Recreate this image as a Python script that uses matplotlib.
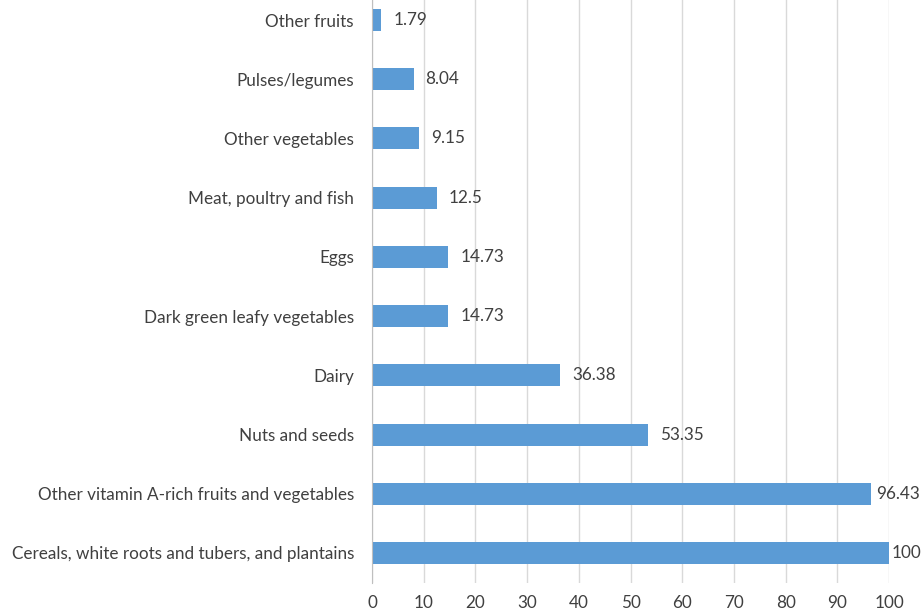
import matplotlib
matplotlib.use("Agg")
import matplotlib.pyplot as plt
import matplotlib.transforms as mtransforms

categories = [
    "Cereals, white roots and tubers, and plantains",
    "Other vitamin A-rich fruits and vegetables",
    "Nuts and seeds",
    "Dairy",
    "Dark green leafy vegetables",
    "Eggs",
    "Meat, poultry and fish",
    "Other vegetables",
    "Pulses/legumes",
    "Other fruits",
]
values = [100, 96.43, 53.35, 36.38, 14.73, 14.73, 12.5, 9.15, 8.04, 1.79]
value_labels = ["100", "96.43", "53.35", "36.38", "14.73", "14.73", "12.5", "9.15", "8.04", "1.79"]
xticks = [0, 10, 20, 30, 40, 50, 60, 70, 80, 90, 100]

plt.rcParams['font.family'] = ['Lato', 'DejaVu Sans']

fig = plt.figure(figsize=(9.21, 6.12), dpi=100)
ax = fig.add_axes([372/921, 1 - 582.6/612, (889-372)/921, (582.6+9.6)/612])

y = list(range(len(categories)))
ax.barh(y, values, height=0.37, color="#5B9BD5", zorder=3)
for yi, v, lab in zip(y, values, value_labels):
    if v >= 99:
        off = 2.5
    elif v > 90:
        off = 6
    else:
        off = 12
    ax.text(v, yi, lab, va="center", ha="left", fontsize=12.3, color="#404040",
            transform=ax.transData + mtransforms.ScaledTranslation(off/100, 0, fig.dpi_scale_trans))

ax.set_xlim(0, 100)
ax.set_ylim(-0.5, len(categories) - 0.5)
ax.set_yticks(y)
ax.set_yticklabels(categories, fontsize=12.3, color="#404040")
ax.set_xticks(xticks)
ax.set_xticklabels([str(t) for t in xticks], fontsize=12.3, color="#404040")
ax.tick_params(axis="y", length=0, pad=13)
ax.tick_params(axis="x", length=0, pad=9)
ax.grid(axis="x", color="#D9D9D9", linewidth=1, zorder=0)
for s in ["top", "right", "bottom"]:
    ax.spines[s].set_visible(False)
ax.spines["left"].set_color("#BFBFBF")
ax.spines["left"].set_zorder(4)

fig.savefig("out.png", dpi=100)
